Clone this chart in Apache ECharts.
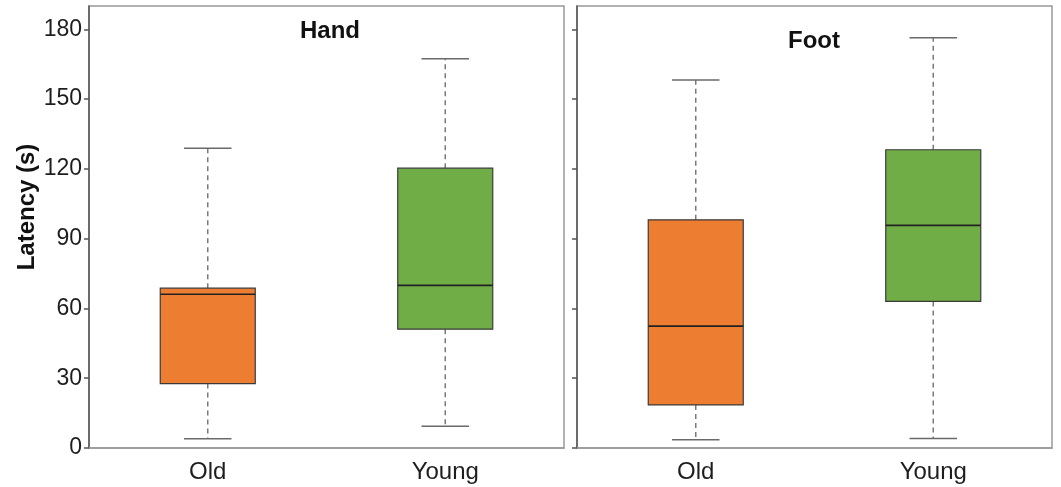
<!DOCTYPE html>
<html>
<head>
<meta charset="utf-8">
<script src="https://cdn.jsdelivr.net/npm/echarts@6/dist/echarts.min.js"></script>
<style>
html,body{margin:0;padding:0;background:#fff;}
#chart{width:1061px;height:487px;}
</style>
</head>
<body>
<div id="chart"></div>
<script>
// ---- data ----
var categories = ['Old', 'Young'];
var panelTitles = ['Hand', 'Foot'];
var yAxisTitle = 'Latency (s)';
var yTicks = [0, 30, 60, 90, 120, 150, 180];

var handMin = [4.0, 9.4];
var handQ1 = [27.7, 51.1];
var handMedian = [66.1, 69.9];
var handQ3 = [68.7, 120.3];
var handMax = [128.9, 167.3];

var footMin = [3.6, 4.1];
var footQ1 = [18.5, 63.0];
var footMedian = [52.4, 95.7];
var footQ3 = [98.1, 128.2];
var footMax = [158.2, 176.3];

var boxColors = ['#ED7D31', '#70AD47'];

function rows(mn, q1, md, q3, mx) {
  return categories.map(function (c, i) { return [i, mn[i], q1[i], md[i], q3[i], mx[i]]; });
}

function renderBox(params, api) {
  var idx = api.value(0);
  var band = api.size([1, 0])[0];
  var bw = band * 0.4;
  var cw = band * 0.2;
  var pMin = api.coord([idx, api.value(1)]);
  var pQ1 = api.coord([idx, api.value(2)]);
  var pMed = api.coord([idx, api.value(3)]);
  var pQ3 = api.coord([idx, api.value(4)]);
  var pMax = api.coord([idx, api.value(5)]);
  var x = pMed[0];
  var whisk = { stroke: '#7a7a7a', lineWidth: 1.5, lineDash: [5, 4] };
  var cap = { stroke: '#6a6a6a', lineWidth: 1.5 };
  return {
    type: 'group',
    children: [
      { type: 'line', shape: { x1: x, y1: pQ3[1], x2: x, y2: pMax[1] }, style: whisk },
      { type: 'line', shape: { x1: x, y1: pQ1[1], x2: x, y2: pMin[1] }, style: whisk },
      { type: 'line', shape: { x1: x - cw / 2, y1: pMax[1], x2: x + cw / 2, y2: pMax[1] }, style: cap },
      { type: 'line', shape: { x1: x - cw / 2, y1: pMin[1], x2: x + cw / 2, y2: pMin[1] }, style: cap },
      { type: 'rect', shape: { x: x - bw / 2, y: pQ3[1], width: bw, height: pQ1[1] - pQ3[1] },
        style: { fill: boxColors[idx], stroke: '#3a3a3a', lineWidth: 1.2 } },
      { type: 'line', shape: { x1: x - bw / 2, y1: pMed[1], x2: x + bw / 2, y2: pMed[1] },
        style: { stroke: '#222', lineWidth: 1.6 } }
    ]
  };
}

var chart = echarts.init(document.getElementById('chart'), null, { renderer: 'canvas' });
var font = 'Liberation Sans, Arial, sans-serif';

function yAxis(gi, showLabels) {
  return {
    type: 'value', gridIndex: gi, min: 0, max: 190, interval: 30,
    axisLine: { show: true, lineStyle: { color: '#555', width: 1.5 } },
    axisTick: { show: true, length: 5, customValues: yTicks, lineStyle: { color: '#555', width: 1.5 } },
    axisLabel: { show: showLabels, customValues: yTicks, margin: 7, fontFamily: font, fontSize: 23, color: '#1e1e1e' },
    splitLine: { show: false }
  };
}
function xAxis(gi) {
  return {
    type: 'category', gridIndex: gi, data: categories, boundaryGap: true,
    axisLine: { show: true, lineStyle: { color: '#999', width: 1.5 } },
    axisTick: { show: false },
    axisLabel: { margin: 12, fontFamily: font, fontSize: 24, color: '#1e1e1e' },
    splitLine: { show: false }
  };
}

function label(text, x, y, rot) {
  return {
    type: 'text', x: x, y: y, rotation: rot || 0, z: 10,
    style: { text: text, fontFamily: font, fontSize: 24, fontWeight: 'bold', fill: '#111',
      textAlign: 'center', textVerticalAlign: 'middle' }
  };
}

chart.setOption({
  animation: false,
  backgroundColor: '#fff',
  graphic: [
    label(panelTitles[0], 330, 31.5),
    label(panelTitles[1], 814, 41.5),
    label(yAxisTitle, 27, 207, Math.PI / 2)
  ],
  grid: [
    { left: 89, top: 6, width: 475, height: 442, show: true, borderColor: '#999', borderWidth: 1.5, backgroundColor: 'transparent' },
    { left: 577, top: 6, width: 475, height: 442, show: true, borderColor: '#999', borderWidth: 1.5, backgroundColor: 'transparent' }
  ],
  xAxis: [xAxis(0), xAxis(1)],
  yAxis: [yAxis(0, true), yAxis(1, false)],
  series: [
    { type: 'custom', xAxisIndex: 0, yAxisIndex: 0, renderItem: renderBox,
      encode: { x: 0, y: [1, 2, 3, 4, 5] },
      data: rows(handMin, handQ1, handMedian, handQ3, handMax) },
    { type: 'custom', xAxisIndex: 1, yAxisIndex: 1, renderItem: renderBox,
      encode: { x: 0, y: [1, 2, 3, 4, 5] },
      data: rows(footMin, footQ1, footMedian, footQ3, footMax) }
  ]
});
</script>
</body>
</html>
